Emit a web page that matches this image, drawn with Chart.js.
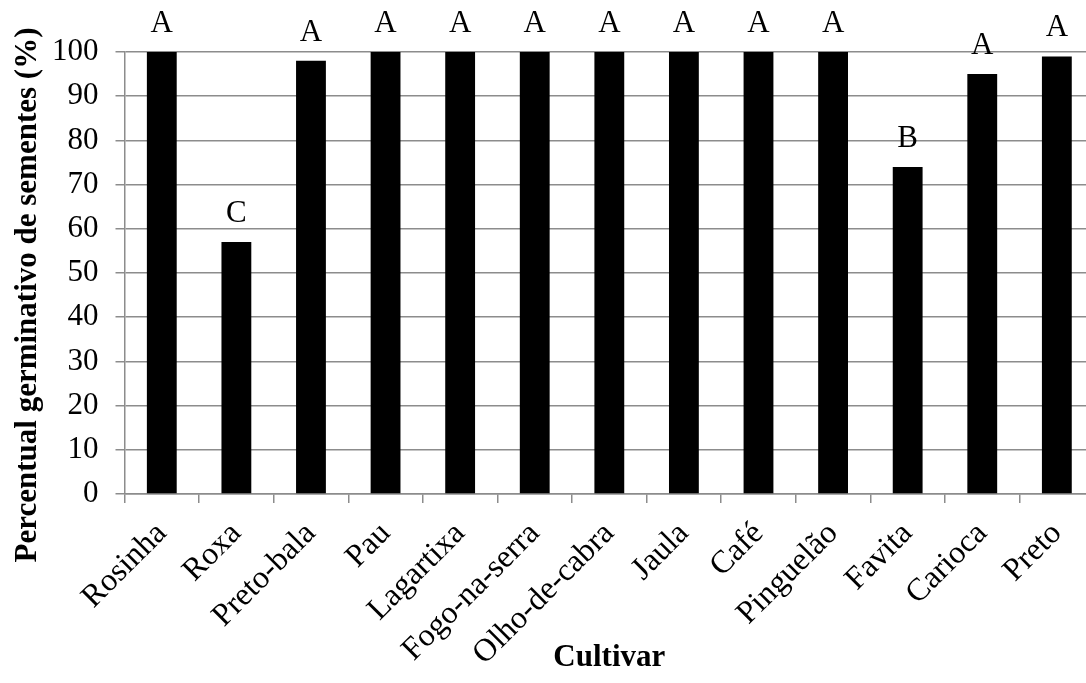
<!DOCTYPE html>
<html>
<head>
<meta charset="utf-8">
<script src="https://cdn.jsdelivr.net/npm/chart.js@4.4.0/dist/chart.umd.min.js"></script>
<style>
  html, body { margin: 0; padding: 0; background: #fff; overflow: hidden; }
  #wrap { width: 1086px; height: 683px; overflow: hidden; }
</style>
</head>
<body>
<div id="wrap"><canvas id="germChart" width="1096" height="683"></canvas></div>
<script>
// Cultivars and germination percent
const cultivars = ['Rosinha', 'Roxa', 'Preto-bala', 'Pau', 'Lagartixa', 'Fogo-na-serra',
  'Olho-de-cabra', 'Jaula', 'Café', 'Pinguelão', 'Favita', 'Carioca', 'Preto'];
const germination = [100, 57, 98, 100, 100, 100, 100, 100, 100, 100, 74, 95, 99];
// Letters of the mean comparison test
const groups = ['A', 'C', 'A', 'A', 'A', 'A', 'A', 'A', 'A', 'A', 'B', 'A', 'A'];
const yTicks = [0, 10, 20, 30, 40, 50, 60, 70, 80, 90, 100];
const yTitle = 'Percentual germinativo de sementes (%)';

const serif = '"Liberation Serif", "Times New Roman", serif';
const gridGray = '#8c8c8c';

// draws the group letters above each bar, and the y title (sits a bit below centre in the original)
const letterPlugin = {
  id: 'letters',
  afterDatasetsDraw(chart) {
    const ctx = chart.ctx;
    const meta = chart.getDatasetMeta(0);
    ctx.save();
    ctx.font = '31px ' + serif;
    ctx.fillStyle = '#000';
    ctx.textAlign = 'center';
    ctx.textBaseline = 'alphabetic';
    meta.data.forEach((bar, i) => {
      ctx.fillText(groups[i], bar.x, bar.y - 20);
    });

    const area = chart.chartArea;
    ctx.translate(28, (area.top + area.bottom) / 2 + 22);
    ctx.rotate(-Math.PI / 2);
    ctx.font = 'bold 31px ' + serif;
    ctx.textBaseline = 'middle';
    ctx.fillText(yTitle, 0, 0);
    ctx.restore();
  }
};

const ctx = document.getElementById('germChart').getContext('2d');
const germChart = new Chart(ctx, {
  type: 'bar',
  data: {
    labels: cultivars,
    datasets: [{
      data: germination,
      backgroundColor: '#000',
      borderWidth: 0,
      barPercentage: 0.4,
      categoryPercentage: 1.0
    }]
  },
  options: {
    responsive: false,
    animation: false,
    layout: { padding: { top: 52, right: 0, left: 0, bottom: 6 } },
    plugins: {
      legend: { display: false },
      tooltip: { enabled: false }
    },
    scales: {
      x: {
        afterFit(scale) {
          scale.height = 183;
        },
        grid: {
          offset: true,
          drawOnChartArea: false,
          color: gridGray,
          lineWidth: 1.5,
          tickLength: 9
        },
        border: { color: gridGray, width: 1.5 },
        ticks: {
          autoSkip: false,
          maxRotation: 45,
          minRotation: 45,
          padding: 12,
          color: '#000',
          font: { family: serif, size: 32 }
        },
        title: {
          display: true,
          text: 'Cultivar',
          color: '#000',
          padding: { top: 4, bottom: 0 },
          font: { family: serif, size: 31, weight: 'bold' }
        }
      },
      y: {
        min: 0,
        max: 100,
        afterBuildTicks(scale) {
          scale.ticks = yTicks.map(v => ({ value: v }));
        },
        afterFit(scale) {
          scale.width = 124.5;
        },
        grid: {
          color: gridGray,
          lineWidth: 1.5,
          tickLength: 9
        },
        border: { color: gridGray, width: 1.5 },
        ticks: {
          padding: 17,
          color: '#000',
          font: { family: serif, size: 31 }
        }
      }
    }
  },
  plugins: [letterPlugin]
});
</script>
</body>
</html>
